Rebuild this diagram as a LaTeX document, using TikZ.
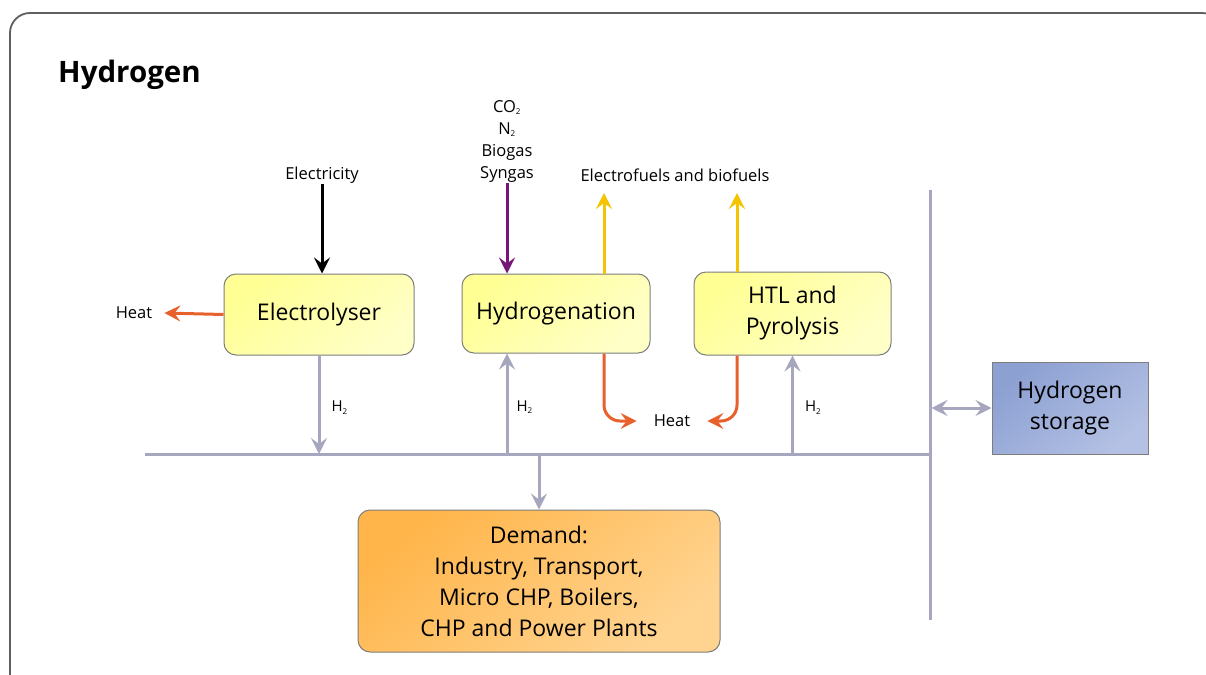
\documentclass[tikz,border=0pt]{standalone}
\usepackage{fontspec}
\setmainfont{Open Sans}
\usetikzlibrary{arrows.meta,calc,positioning}

\definecolor{framegray}{RGB}{95,95,95}
\definecolor{busgray}{RGB}{166,166,190}
\definecolor{boxline}{RGB}{125,125,125}
\definecolor{yellowA}{RGB}{255,255,148}
\definecolor{yellowB}{RGB}{255,255,200}
\definecolor{orangeA}{RGB}{255,181,74}
\definecolor{orangeB}{RGB}{255,212,145}
\definecolor{blueA}{RGB}{140,160,210}
\definecolor{blueB}{RGB}{180,193,228}
\definecolor{heatred}{RGB}{232,97,44}
\definecolor{fuelyellow}{RGB}{245,196,0}
\definecolor{feedpurple}{RGB}{118,22,120}

\tikzset{
  tip/.style={-{Stealth[length=16pt,width=16pt,inset=6pt]}},
  diag/.style 2 args={top color=#1, bottom color=#2, shading angle=40},
  procbox/.style={draw=boxline, line width=1pt, rounded corners=12pt,
    diag={yellowA}{yellowB}, align=center, inner sep=0pt,
    font=\fontsize{23}{31}\selectfont},
  lab/.style={font=\fontsize{16.5}{22}\selectfont, align=center, inner sep=1pt},
  h2lab/.style={font=\fontsize{15}{16}\selectfont, inner sep=0pt, right, xshift=11pt},
  busline/.style={draw=busgray, line width=3pt},
  h2arrow/.style={busline, tip},
  heatarrow/.style={draw=heatred, line width=3pt, tip},
  fuelarrow/.style={draw=fuelyellow, line width=3pt, tip},
}

\newcommand{\sub}[1]{\textsubscript{\fontsize{8}{8}\selectfont #1}}

\begin{document}
\begin{tikzpicture}[x=1pt,y=-1pt]
    %%%%% FRAME %%%%%
    \useasboundingbox (0,0) rectangle (1206,674);
    \begin{scope}
      \clip (0,0) rectangle (1206,674);
      \draw[framegray, line width=1.8pt, rounded corners=20pt] (10,13) rectangle (1222,700);
    \end{scope}
    \node[anchor=base west, font=\fontsize{29.5}{30}\selectfont\bfseries, inner sep=0pt] (title) at (58,83) {Hydrogen};

    %%%%% BOXES %%%%%
    \node[procbox, minimum width=190pt, minimum height=81pt] (elec) at (319,314.5) {Electrolyser};
    \node[procbox, minimum width=188pt, minimum height=79pt] (hyd) at (556,313.5) {Hydrogenation};
    \node[procbox, minimum width=197pt, minimum height=83pt] (htl) at (792.5,313.5) {HTL and\\Pyrolysis};
    \node[draw=boxline, line width=1pt, diag={blueA}{blueB}, align=center,
      minimum width=156pt, minimum height=92pt, inner sep=0pt,
      font=\fontsize{23}{31}\selectfont] (stor) at (1070,408) {Hydrogen\\storage};
    \node[procbox, diag={orangeA}{orangeB}, minimum width=362pt, minimum height=142pt]
      (dem) at (539,581) {Demand:\\Industry, Transport,\\Micro CHP, Boilers,\\CHP and Power Plants};

    %%%%% LABELS %%%%%
    \node[lab] (elecin) at (322,175) {Electricity};
    \node[lab] (feed) at (507,141) {CO\sub{2}\\N\sub{2}\\Biogas\\Syngas};
    \node[lab] (fuels) at (675,175) {Electrofuels and biofuels};
    \node[lab, inner xsep=12pt] (heatL) at (134,313) {Heat};
    \node[lab, inner xsep=17pt] (heatM) at (672,421) {Heat};

    \coordinate (hx) at (604,0);
    \coordinate (tx) at (737,0);
    \coordinate (ftop) at (0,193);
    \coordinate (busL) at (145,454);
    \coordinate (busR) at (930,454);
    \coordinate (vTop) at (930,190);
    \coordinate (vBot) at (930,620);

    %%%%% BUS %%%%%
    \draw[busline] (busL) -- (busR);
    \draw[busline] (vTop) -- (vBot);

    %%%%% INPUTS / OUTPUTS %%%%%
    \draw[black, line width=3pt, tip] (elecin.south) -- (elecin.south |- elec.north);
    \draw[feedpurple, line width=3pt, tip] (feed.south) -- (feed.south |- hyd.north);
    \draw[fuelarrow] (hx |- hyd.north) -- (hx |- ftop);
    \draw[fuelarrow] (tx |- htl.north) -- (tx |- ftop);
    \draw[heatarrow] (elec.west) -- (heatL.east);
    \draw[heatarrow, rounded corners=16pt] (hx |- hyd.south) |- (heatM.west);
    \draw[heatarrow, rounded corners=16pt] (tx |- htl.south) |- (heatM.east);

    %%%%% H2 %%%%%
    \draw[h2arrow] (elec.south) -- (elec.south |- busL) node[h2lab, pos=0.53] {H\sub{2}};
    \draw[h2arrow] (feed.south |- busL) -- (feed.south |- hyd.south) node[h2lab, pos=0.47, xshift=-3pt] {H\sub{2}};
    \draw[h2arrow] (htl.south |- busL) -- (htl.south) node[h2lab, pos=0.47] {H\sub{2}};
    \draw[h2arrow] (dem.north |- busL) -- (dem.north);
    \draw[busline, {Stealth[length=16pt,width=16pt,inset=6pt]}-{Stealth[length=16pt,width=16pt,inset=6pt]}]
      ([xshift=1.5pt]vTop |- stor.west) -- (stor.west);
\end{tikzpicture}
\end{document}
